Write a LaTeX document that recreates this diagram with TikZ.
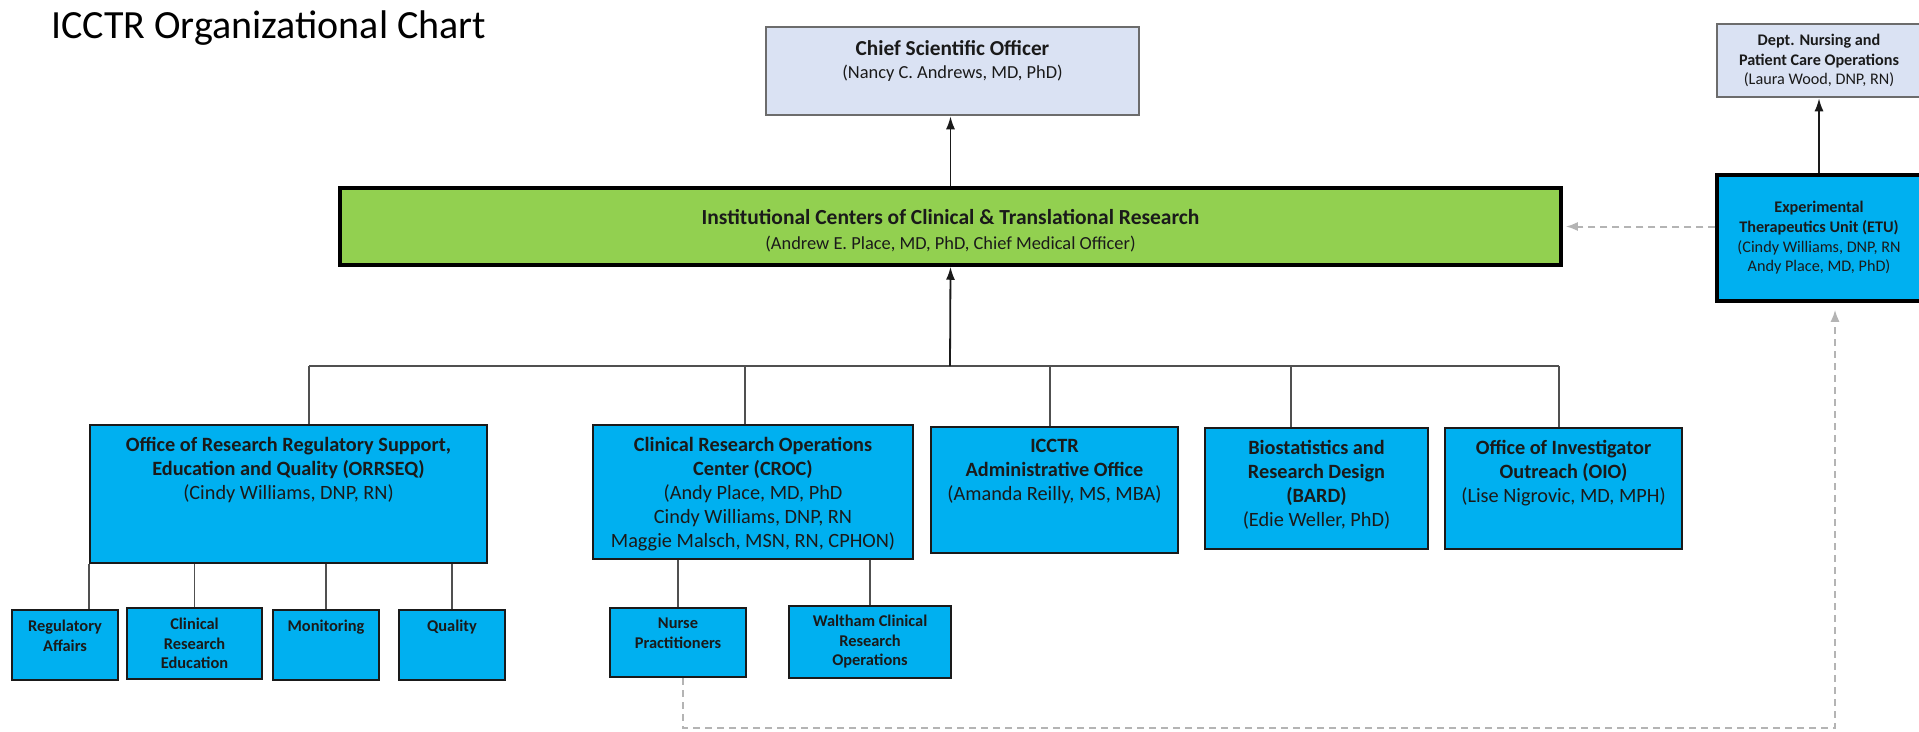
\documentclass[tikz,border=0pt]{standalone}
\usepackage{fontspec}
\setmainfont{Carlito}
\usetikzlibrary{positioning,calc,arrows.meta}
\definecolor{cyanfill}{HTML}{00B0F0}
\definecolor{greenfill}{HTML}{92D050}
\definecolor{lavfill}{HTML}{DAE2F3}
\definecolor{ink}{HTML}{1A1A1A}
\definecolor{linegray}{HTML}{505050}
\definecolor{dashgray}{HTML}{B4B4B4}
\newcommand\mainsize{\fontsize{20.3}{24}\selectfont}
\newcommand\subsize{\fontsize{16.4}{19.5}\selectfont}
\newcommand\topsize{\fontsize{18.4}{23}\selectfont}
\newcommand\sidesize{\fontsize{16.2}{19.7}\selectfont}
\tikzset{
  cbox/.style={draw=ink, line width=2.2pt, fill=cyanfill, inner sep=0pt},
  ebox/.style={draw=black, line width=3.5pt, fill=cyanfill, inner sep=0pt, align=center, text=ink},
  gbox/.style={draw=black, line width=3.5pt, fill=greenfill, inner sep=0pt},
  lbox/.style={draw=gray!85!black, line width=2.5pt, fill=lavfill, inner sep=0pt, align=center, text=ink},
  txt/.style={align=center, inner sep=0pt, text=ink},
  conn/.style={draw=linegray, line width=1.8pt},
  uparrow/.style={draw=ink, line width=1.8pt, -{Latex[length=13pt,width=9pt]}},
  dashlink/.style={draw=dashgray, line width=2pt, dash pattern=on 7pt off 5pt, -{Latex[length=12pt,width=9pt]}}
}
\begin{document}
\begin{tikzpicture}[x=1pt,y=-1pt]
\useasboundingbox[fill=white] (0,0) rectangle (1919,731);
\node[anchor=base west, inner sep=0pt, font=\fontsize{40}{48}\selectfont] (title) at (51,38) {ICCTR Organizational Chart};

% top level
\node[lbox, minimum width=373, minimum height=88] (cso) at (952.5,71) {};
\node[txt, font=\topsize, below=15pt of cso.north] (csotxt) {{\fontsize{21.3}{23}\selectfont\textbf{Chief Scientific Officer}}\\(Nancy C. Andrews, MD, PhD)};
\node[lbox, minimum width=204, minimum height=73, font=\sidesize] (dept) at (1819,60.5) {\textbf{Dept. Nursing and}\\\textbf{Patient Care Operations}\\(Laura Wood, DNP, RN)};
\node[gbox, minimum width=1221, minimum height=77] (icctr) at (950.5,226.5) {};
\node[txt, font=\fontsize{18.4}{25}\selectfont, below=23pt of icctr.north] (icctrtxt) {{\fontsize{21.5}{25}\selectfont\textbf{Institutional Centers of Clinical \& Translational Research}}\\(Andrew E. Place, MD, PhD, Chief Medical Officer)};
\node[ebox, minimum width=204, minimum height=126, font=\sidesize] (etu) at (1819,238) {\textbf{Experimental}\\\textbf{Therapeutics Unit (ETU)}\\(Cindy Williams, DNP, RN\\Andy Place, MD, PhD)};

% offices
\node[cbox, minimum width=397, minimum height=138] (orrseq) at (288.5,494) {};
\node[txt, font=\mainsize, below=13pt of orrseq.north] (orrseqtxt) {\textbf{Office of Research Regulatory Support,}\\\textbf{Education and Quality (ORRSEQ)}\\(Cindy Williams, DNP, RN)};
\node[cbox, minimum width=320, minimum height=134] (croc) at (753,492) {};
\node[txt, font=\mainsize, below=13pt of croc.north] (croctxt) {\textbf{Clinical Research Operations}\\\textbf{Center (CROC)}\\(Andy Place, MD, PhD\\Cindy Williams, DNP, RN\\Maggie Malsch, MSN, RN, CPHON)};
\node[cbox, minimum width=247, minimum height=126] (admin) at (1054.5,490) {};
\node[txt, font=\mainsize, below=13pt of admin.north] (admintxt) {\textbf{ICCTR}\\\textbf{Administrative Office}\\(Amanda Reilly, MS, MBA)};
\node[cbox, minimum width=223, minimum height=121] (bard) at (1316.5,488.5) {};
\node[txt, font=\mainsize, below=13pt of bard.north] (bardtxt) {\textbf{Biostatistics and}\\\textbf{Research Design}\\\textbf{(BARD)}\\(Edie Weller, PhD)};
\node[cbox, minimum width=237, minimum height=121] (oio) at (1563.5,488.5) {};
\node[txt, font=\mainsize, below=13pt of oio.north] (oiotxt) {\textbf{Office of Investigator}\\\textbf{Outreach (OIO)}\\(Lise Nigrovic, MD, MPH)};

% units
\node[cbox, minimum width=106, minimum height=70] (ra) at (65,645) {};
\node[txt, font=\subsize, below=11pt of ra.north] (ratxt) {\textbf{Regulatory}\\\textbf{Affairs}};
\node[cbox, minimum width=135, minimum height=71] (cre) at (194.5,643.5) {};
\node[txt, font=\subsize, below=11pt of cre.north] (cretxt) {\textbf{Clinical}\\\textbf{Research}\\\textbf{Education}};
\node[cbox, minimum width=106, minimum height=70] (mon) at (326,645) {};
\node[txt, font=\subsize, below=11pt of mon.north] (montxt) {\textbf{Monitoring}};
\node[cbox, minimum width=106, minimum height=70] (qual) at (452,645) {};
\node[txt, font=\subsize, below=11pt of qual.north] (qualtxt) {\textbf{Quality}};
\node[cbox, minimum width=136, minimum height=69] (np) at (678,642.5) {};
\node[txt, font=\subsize, below=11pt of np.north] (nptxt) {\textbf{Nurse}\\\textbf{Practitioners}};
\node[cbox, minimum width=162, minimum height=72] (walt) at (870,642) {};
\node[txt, font=\subsize, below=10pt of walt.north] (walttxt) {\textbf{Waltham Clinical}\\\textbf{Research}\\\textbf{Operations}};

% connectors
\coordinate (hub) at (950,366);
\coordinate (b1) at (309,366);
\coordinate (b2) at (745,366);
\coordinate (b3) at (1050,366);
\coordinate (b4) at (1291,366);
\coordinate (b5) at (1559,366);
\draw[conn] (b1) -- (b5);
\foreach \b/\n in {b1/orrseq,b2/croc,b3/admin,b4/bard,b5/oio}{\draw[conn] (\b) -- (\b |- \n.north);}
\draw[uparrow] (hub) -- (icctr.south);
\draw[uparrow] (icctr.north) -- (icctr.north |- cso.south);
\draw[uparrow] (etu.north) -- (dept.south);
\draw[conn] (orrseq.south west) -- (orrseq.south west |- ra.north);
\foreach \n in {cre,mon,qual}{\draw[conn] (\n.north) -- (\n.north |- orrseq.south);}
\foreach \n in {np,walt}{\draw[conn] (\n.north) -- (\n.north |- croc.south);}
\draw[dashlink, shorten >=3pt] (etu.west |- icctr.east) -- (icctr.east);
\coordinate (loop) at (1835,728);
\draw[dashlink, shorten >=7pt] ($(np.south)+(5,0)$) |- (loop) -- (loop |- etu.south);
\end{tikzpicture}
\end{document}
